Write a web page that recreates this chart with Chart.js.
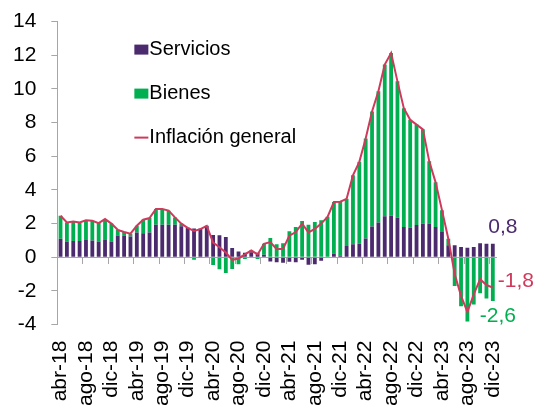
<!DOCTYPE html>
<html>
<head>
<meta charset="utf-8">
<script src="https://cdn.jsdelivr.net/npm/chart.js@4.4.0/dist/chart.umd.min.js"></script>
<style>
  html, body { margin: 0; padding: 0; background: #fff; overflow: hidden; }
  canvas { display: block; margin-top: -6px; }
</style>
</head>
<body>
<canvas id="myChart" width="536" height="411"></canvas>
<script>
// months from abr-18 to dic-23
const months = [
  'abr-18','may-18','jun-18','jul-18','ago-18','sep-18','oct-18','nov-18','dic-18',
  'ene-19','feb-19','mar-19','abr-19','may-19','jun-19','jul-19','ago-19','sep-19','oct-19','nov-19','dic-19',
  'ene-20','feb-20','mar-20','abr-20','may-20','jun-20','jul-20','ago-20','sep-20','oct-20','nov-20','dic-20',
  'ene-21','feb-21','mar-21','abr-21','may-21','jun-21','jul-21','ago-21','sep-21','oct-21','nov-21','dic-21',
  'ene-22','feb-22','mar-22','abr-22','may-22','jun-22','jul-22','ago-22','sep-22','oct-22','nov-22','dic-22',
  'ene-23','feb-23','mar-23','abr-23','may-23','jun-23','jul-23','ago-23','sep-23','oct-23','nov-23','dic-23'
];

const servicios = [
  1.10, 0.93, 0.97, 0.97, 1.03, 1.00, 0.93, 1.03, 0.93,
  1.30, 1.30, 1.23, 1.47, 1.43, 1.47, 1.93, 1.93, 1.93, 1.93, 1.85, 1.75,
  1.71, 1.71, 1.87, 1.33, 1.31, 1.21, 0.55, 0.35, 0.27, 0.30, 0.27, 0.15,
  -0.25, -0.30, -0.33, -0.27, -0.30, -0.15, -0.45, -0.42, -0.20, 0.00, 0.22, 0.10,
  0.67, 0.77, 0.81, 1.11, 1.83, 2.07, 2.43, 2.47, 2.35, 1.80, 1.75, 1.92,
  2.00, 2.00, 1.80, 1.50, 0.71, 0.71, 0.61, 0.57, 0.61, 0.83, 0.80, 0.80
];

const bienes = [
  1.37, 1.14, 1.16, 1.10, 1.17, 1.17, 1.10, 1.24, 1.07,
  0.33, 0.20, 0.17, 0.40, 0.80, 0.86, 0.94, 0.94, 0.84, 0.44, 0.15, 0.02,
  -0.14, -0.04, 0.00, -0.46, -0.71, -0.93, -0.70, -0.42, -0.10, 0.10, -0.10, 0.65,
  1.15, 0.78, 0.83, 1.55, 1.80, 2.15, 1.93, 2.10, 2.20, 2.40, 3.06, 3.20,
  2.80, 4.10, 4.86, 5.95, 6.83, 7.79, 9.02, 9.66, 8.10, 7.06, 6.42, 5.96,
  5.60, 3.70, 2.65, 1.30, 0.39, -1.71, -2.91, -3.82, -2.81, -2.13, -2.45, -2.60
];

const inflacion = [
  2.47, 2.07, 2.13, 2.07, 2.20, 2.17, 2.03, 2.27, 2.00,
  1.63, 1.50, 1.40, 1.87, 2.23, 2.33, 2.87, 2.87, 2.77, 2.37, 2.00, 1.75,
  1.57, 1.67, 1.87, 0.87, 0.60, 0.28, -0.15, -0.07, 0.17, 0.40, 0.17, 0.80,
  0.90, 0.48, 0.50, 1.28, 1.50, 2.00, 1.48, 1.68, 2.00, 2.40, 3.28, 3.30,
  3.47, 4.87, 5.67, 7.06, 8.66, 9.86, 11.45, 12.13, 10.45, 8.86, 8.17, 7.88,
  7.60, 5.70, 4.45, 2.80, 1.10, -1.00, -2.30, -3.25, -2.20, -1.30, -1.65, -1.80
];

const yTicks = { min: -4, max: 14, step: 2 };

const PURPLE = '#4b2a6e';
const GREEN = '#00b050';
const RED = '#cf3a5c';
const AXIS = '#a6a6a6';
const FONT = "'Liberation Sans', Arial, sans-serif";

// legend drawn inside the plot, top left
const innerLegend = {
  id: 'innerLegend',
  afterDraw(chart) {
    const ctx = chart.ctx;
    const area = chart.chartArea;
    const x0 = area.left + 77;
    ctx.save();
    ctx.font = '20px ' + FONT;
    ctx.textBaseline = 'middle';
    ctx.textAlign = 'left';
    chart.data.datasets.forEach((ds, i) => {
      const y = area.top + 28 + i * 44;
      if (ds.type === 'line') {
        ctx.strokeStyle = ds.borderColor;
        ctx.lineWidth = 2;
        ctx.beginPath();
        ctx.moveTo(x0, y);
        ctx.lineTo(x0 + 14, y);
        ctx.stroke();
      } else {
        ctx.fillStyle = ds.backgroundColor;
        ctx.fillRect(x0, y - 5, 14, 10);
      }
      ctx.fillStyle = '#000';
      ctx.fillText(ds.label, x0 + 15, y);
    });
    ctx.restore();
  }
};

// value labels for the last month
const lastLabels = {
  id: 'lastLabels',
  afterDraw(chart) {
    const ctx = chart.ctx;
    const n = months.length - 1;
    const fmt = v => v.toFixed(1).replace('.', ',');
    ctx.save();
    ctx.font = '21px ' + FONT;

    const s = chart.getDatasetMeta(0).data[n];
    ctx.fillStyle = PURPLE;
    ctx.textAlign = 'center';
    ctx.textBaseline = 'bottom';
    ctx.fillText(fmt(servicios[n]), s.x + 10, s.y - 6);

    const b = chart.getDatasetMeta(1).data[n];
    ctx.fillStyle = GREEN;
    ctx.textBaseline = 'top';
    ctx.fillText(fmt(bienes[n]), b.x + 5, b.y + 5);

    const l = chart.getDatasetMeta(2).data[n];
    ctx.fillStyle = RED;
    ctx.textAlign = 'left';
    ctx.textBaseline = 'middle';
    ctx.fillText(fmt(inflacion[n]), l.x + 5, l.y - 6);
    ctx.restore();
  }
};

const ctx = document.getElementById('myChart').getContext('2d');
const chart = new Chart(ctx, {
  type: 'bar',
  data: {
    labels: months,
    datasets: [{
      label: 'Servicios',
      data: servicios,
      backgroundColor: PURPLE,
      categoryPercentage: 0.6,
      barPercentage: 1,
      order: 1
    }, {
      label: 'Bienes',
      data: bienes,
      backgroundColor: GREEN,
      categoryPercentage: 0.6,
      barPercentage: 1,
      order: 1
    }, {
      type: 'line',
      label: 'Inflación general',
      data: inflacion,
      borderColor: RED,
      backgroundColor: RED,
      borderWidth: 2,
      pointRadius: 0,
      tension: 0,
      order: 0
    }]
  },
  options: {
    responsive: false,
    animation: false,
    devicePixelRatio: 1,
    layout: { padding: { left: -2, right: 40, top: 14, bottom: -9 } },
    plugins: {
      legend: { display: false },
      tooltip: { enabled: false }
    },
    scales: {
      x: {
        stacked: true,
        grid: { display: false },
        border: { display: false },
        ticks: {
          autoSkip: false,
          maxRotation: 90,
          minRotation: 90,
          padding: 8,
          color: '#000',
          font: { family: FONT, size: 21 },
          callback: function(value, index) {
            return index % 4 === 0 ? months[index] : '';
          }
        }
      },
      xZero: {
        type: 'category',
        position: { y: 0 },
        offset: true,
        grid: {
          offset: true,
          drawOnChartArea: false,
          tickLength: 6,
          color: c => (c.index % 4 === 0 ? AXIS : 'rgba(0,0,0,0)')
        },
        border: { color: AXIS },
        ticks: { display: false, autoSkip: false }
      },
      y: {
        stacked: true,
        min: yTicks.min,
        max: yTicks.max,
        grid: { drawOnChartArea: false, tickLength: 6, color: AXIS },
        border: { color: AXIS },
        ticks: {
          stepSize: yTicks.step,
          padding: 15,
          color: '#000',
          font: { family: FONT, size: 21 }
        }
      }
    }
  },
  plugins: [innerLegend, lastLabels]
});
</script>
</body>
</html>
